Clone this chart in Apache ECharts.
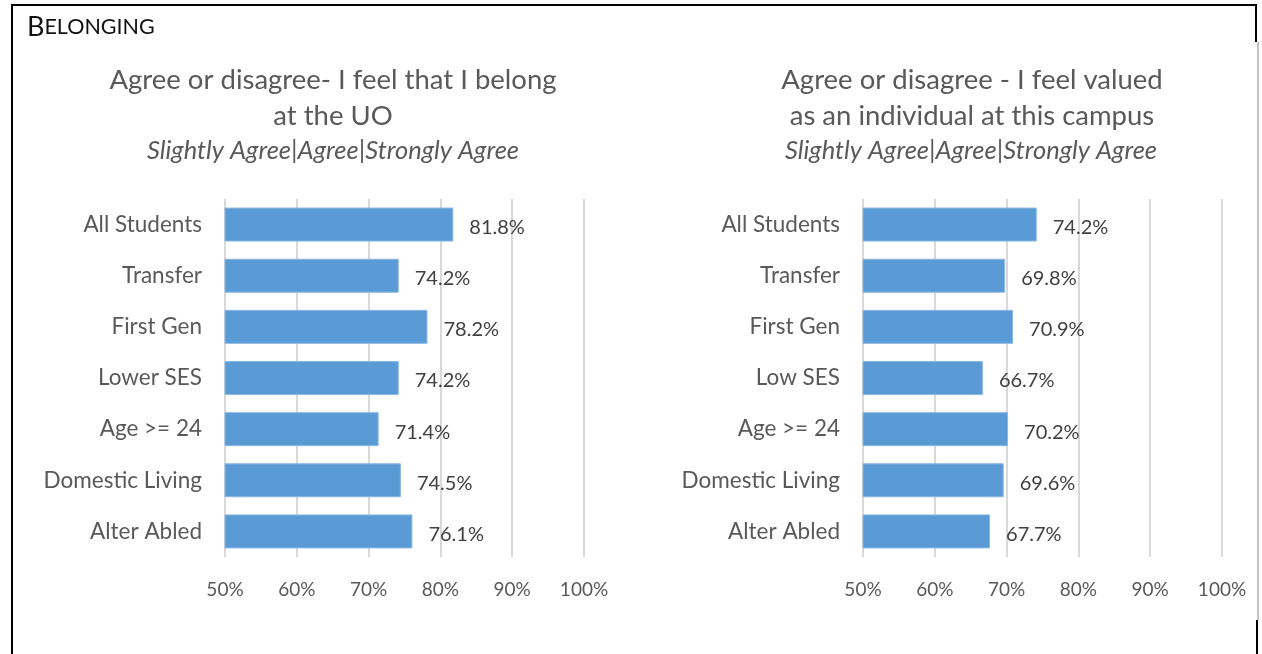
<!DOCTYPE html>
<html>
<head>
<meta charset="utf-8">
<script src="https://cdn.jsdelivr.net/npm/echarts@6/dist/echarts.min.js"></script>
<style>
html,body{margin:0;padding:0;background:#fff;}
#chart{width:1262px;height:654px;}
</style>
</head>
<body>
<div id="chart"></div>
<script>
const leftCategories = ['All Students','Transfer','First Gen','Lower SES','Age >= 24','Domestic Living','Alter Abled'];
const leftValues = [81.8, 74.2, 78.2, 74.2, 71.4, 74.5, 76.1];
const rightCategories = ['All Students','Transfer','First Gen','Low SES','Age >= 24','Domestic Living','Alter Abled'];
const rightValues = [74.2, 69.8, 70.9, 66.7, 70.2, 69.6, 67.7];
const tickMin = 50, tickMax = 100, tickStep = 10;
const leftTitle = ['Agree or disagree- I feel that I belong', 'at the UO'];
const rightTitle = ['Agree or disagree - I feel valued', 'as an individual at this campus'];
const subtitle = 'Slightly Agree|Agree|Strongly Agree';

const FONT = 'Lato, "Open Sans", sans-serif';
const gray = '#595959';
const barColor = '#5B9BD5';

function xAxis(idx){
  return {
    type:'value', gridIndex: idx, min: tickMin, max: tickMax, interval: tickStep,
    axisLine:{show:false}, axisTick:{show:false},
    splitLine:{show:true, lineStyle:{color:'#d9d9d9', width:2}},
    axisLabel:{formatter:'{value}%', color:gray, fontFamily:FONT, fontSize:19, margin:23}
  };
}
function yAxis(idx, cats){
  return {
    type:'category', gridIndex: idx, data: cats, inverse:true,
    axisLine:{show:false}, axisTick:{show:false}, splitLine:{show:false},
    axisLabel:{color:gray, fontFamily:FONT, fontSize:22.5, margin:23}
  };
}
function series(idx, vals){
  return {
    type:'bar', xAxisIndex: idx, yAxisIndex: idx, data: vals, barWidth:34,
    itemStyle:{color:barColor, borderColor:'#8ab8e3', borderWidth:1},
    label:{show:true, position:'right', distance:16, offset:[0,3], formatter:(p)=>p.value.toFixed(1)+'%',
      color:'#404040', fontFamily:FONT, fontSize:20},
    silent:true, animation:false
  };
}
function titleTexts(cx, lines, subCx){
  return [
    {type:'text', style:{text:lines[0], x:cx, y:80, textAlign:'center', textVerticalAlign:'middle', font:'27.5px '+FONT, fill:gray}},
    {type:'text', style:{text:lines[1], x:cx, y:116, textAlign:'center', textVerticalAlign:'middle', font:'27.5px '+FONT, fill:gray}},
    {type:'text', style:{text:subtitle, x:subCx, y:151, textAlign:'center', textVerticalAlign:'middle', font:'italic 25.5px '+FONT, fill:gray}}
  ];
}

const chart = echarts.init(document.getElementById('chart'), null, {renderer:'canvas'});
chart.setOption({
  animation:false,
  backgroundColor:'#ffffff',
  grid:[
    {left:225, top:199, width:359, height:358, containLabel:false},
    {left:863, top:199, width:359, height:358, containLabel:false}
  ],
  xAxis:[xAxis(0), xAxis(1)],
  yAxis:[yAxis(0, leftCategories), yAxis(1, rightCategories)],
  series:[series(0, leftValues), series(1, rightValues)],
  graphic:[
    {type:'line', shape:{x1:12, y1:5, x2:12, y2:654}, style:{stroke:'#000', lineWidth:2}},
    {type:'line', shape:{x1:11, y1:5, x2:1257, y2:5}, style:{stroke:'#000', lineWidth:2}},
    {type:'line', shape:{x1:1256, y1:4, x2:1256, y2:42}, style:{stroke:'#000', lineWidth:2}},
    {type:'line', shape:{x1:1258, y1:42, x2:1258, y2:620}, style:{stroke:'#888', lineWidth:1}},
    {type:'line', shape:{x1:1257, y1:620, x2:1257, y2:654}, style:{stroke:'#000', lineWidth:2}},
    {type:'text', style:{rich:{a:{fontSize:27, fontFamily:FONT, fill:'#111'}, b:{fontSize:21.5, fontFamily:FONT, fill:'#111'}}, text:'{a|B}{b|ELONGING}', x:27, y:41, textVerticalAlign:'bottom'}},
    ...titleTexts(333, leftTitle, 333),
    ...titleTexts(972, rightTitle, 971)
  ]
});
</script>
</body>
</html>
